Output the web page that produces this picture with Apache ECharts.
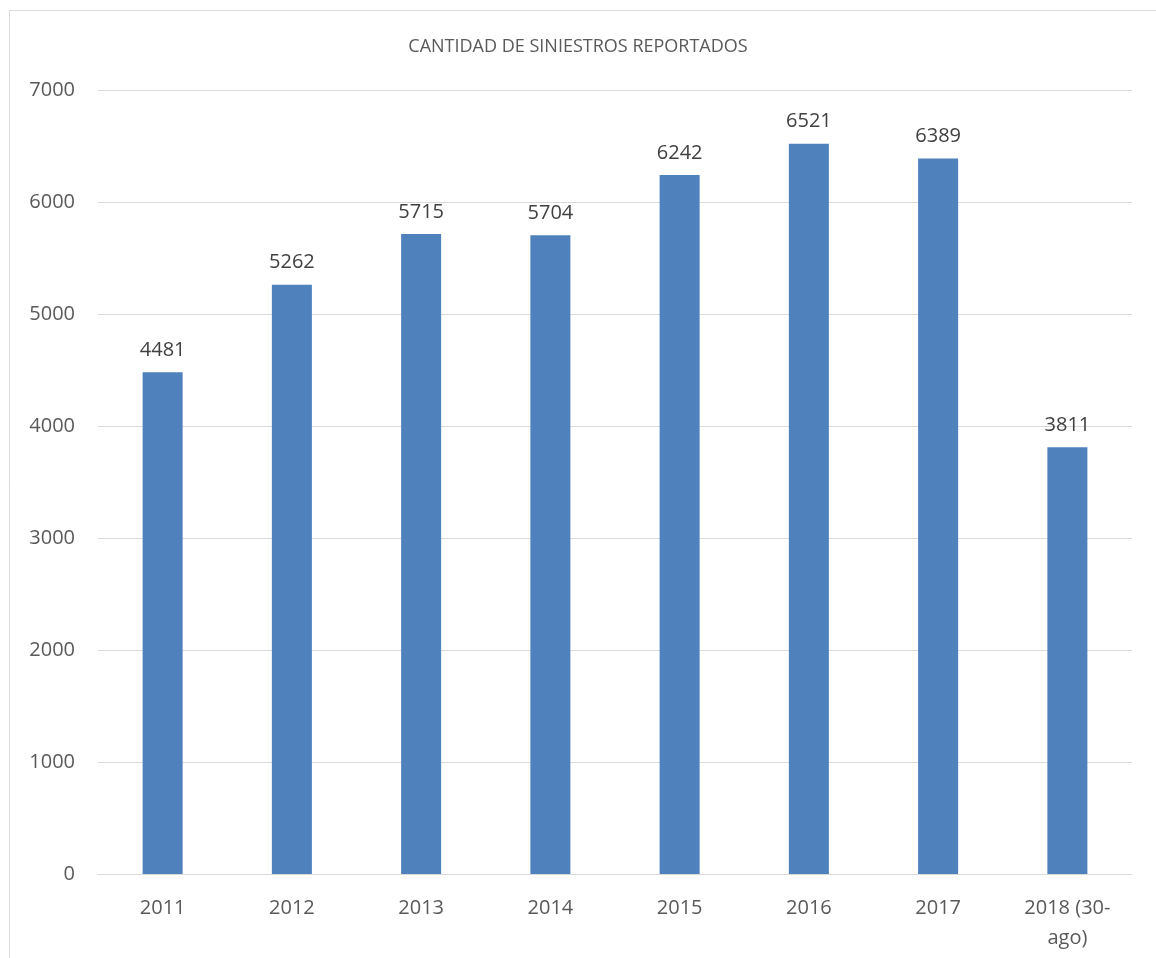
<!DOCTYPE html>
<html>
<head>
<meta charset="utf-8">
<style>
  html, body { margin: 0; padding: 0; background: #ffffff; }
  #chart { width: 1156px; height: 958px; }
</style>
<script src="https://cdn.jsdelivr.net/npm/echarts@6/dist/echarts.min.js"></script>
</head>
<body>
<div id="chart"></div>
<script>
// Reported claims per year
const categories = ['2011', '2012', '2013', '2014', '2015', '2016', '2017', '2018 (30-\nago)'];
const claims = [4481, 5262, 5715, 5704, 6242, 6521, 6389, 3811];
const titleText = 'CANTIDAD DE SINIESTROS REPORTADOS';

const font = '"Open Sans", "Noto Sans", sans-serif';
const chart = echarts.init(document.getElementById('chart'), null, { renderer: 'canvas' });

chart.setOption({
  animation: false,
  backgroundColor: '#ffffff',
  graphic: [{
    type: 'rect',
    shape: { x: 9.5, y: 10.5, width: 1300, height: 1100 },
    style: { fill: 'none', stroke: '#d9d9d9', lineWidth: 1 },
    silent: true
  }],
  title: {
    text: titleText,
    left: 'center',
    top: 33,
    textStyle: { fontFamily: font, fontSize: 18, fontWeight: 'normal', color: '#595959' }
  },
  grid: { left: 98, right: 24, top: 90, bottom: 84, containLabel: false },
  xAxis: {
    type: 'category',
    data: categories,
    axisLine: { show: true, lineStyle: { color: '#d9d9d9', width: 1 } },
    axisTick: { show: false },
    axisLabel: {
      color: '#595959', fontFamily: font, fontSize: 20,
      margin: 19, lineHeight: 30, interval: 0
    }
  },
  yAxis: {
    type: 'value',
    min: 0, max: 7000, interval: 1000,
    axisLine: { show: false },
    axisTick: { show: false },
    splitLine: { lineStyle: { color: '#d9d9d9', width: 1 } },
    axisLabel: {
      color: '#595959', fontFamily: font, fontSize: 20, margin: 23,
      formatter: (v) => String(v)
    }
  },
  series: [{
    type: 'bar',
    data: claims,
    barWidth: 40,
    itemStyle: { color: '#4f81bd' },
    label: {
      show: true, position: 'top', distance: 12,
      color: '#404040', fontFamily: font, fontSize: 20
    }
  }]
});
</script>
</body>
</html>
